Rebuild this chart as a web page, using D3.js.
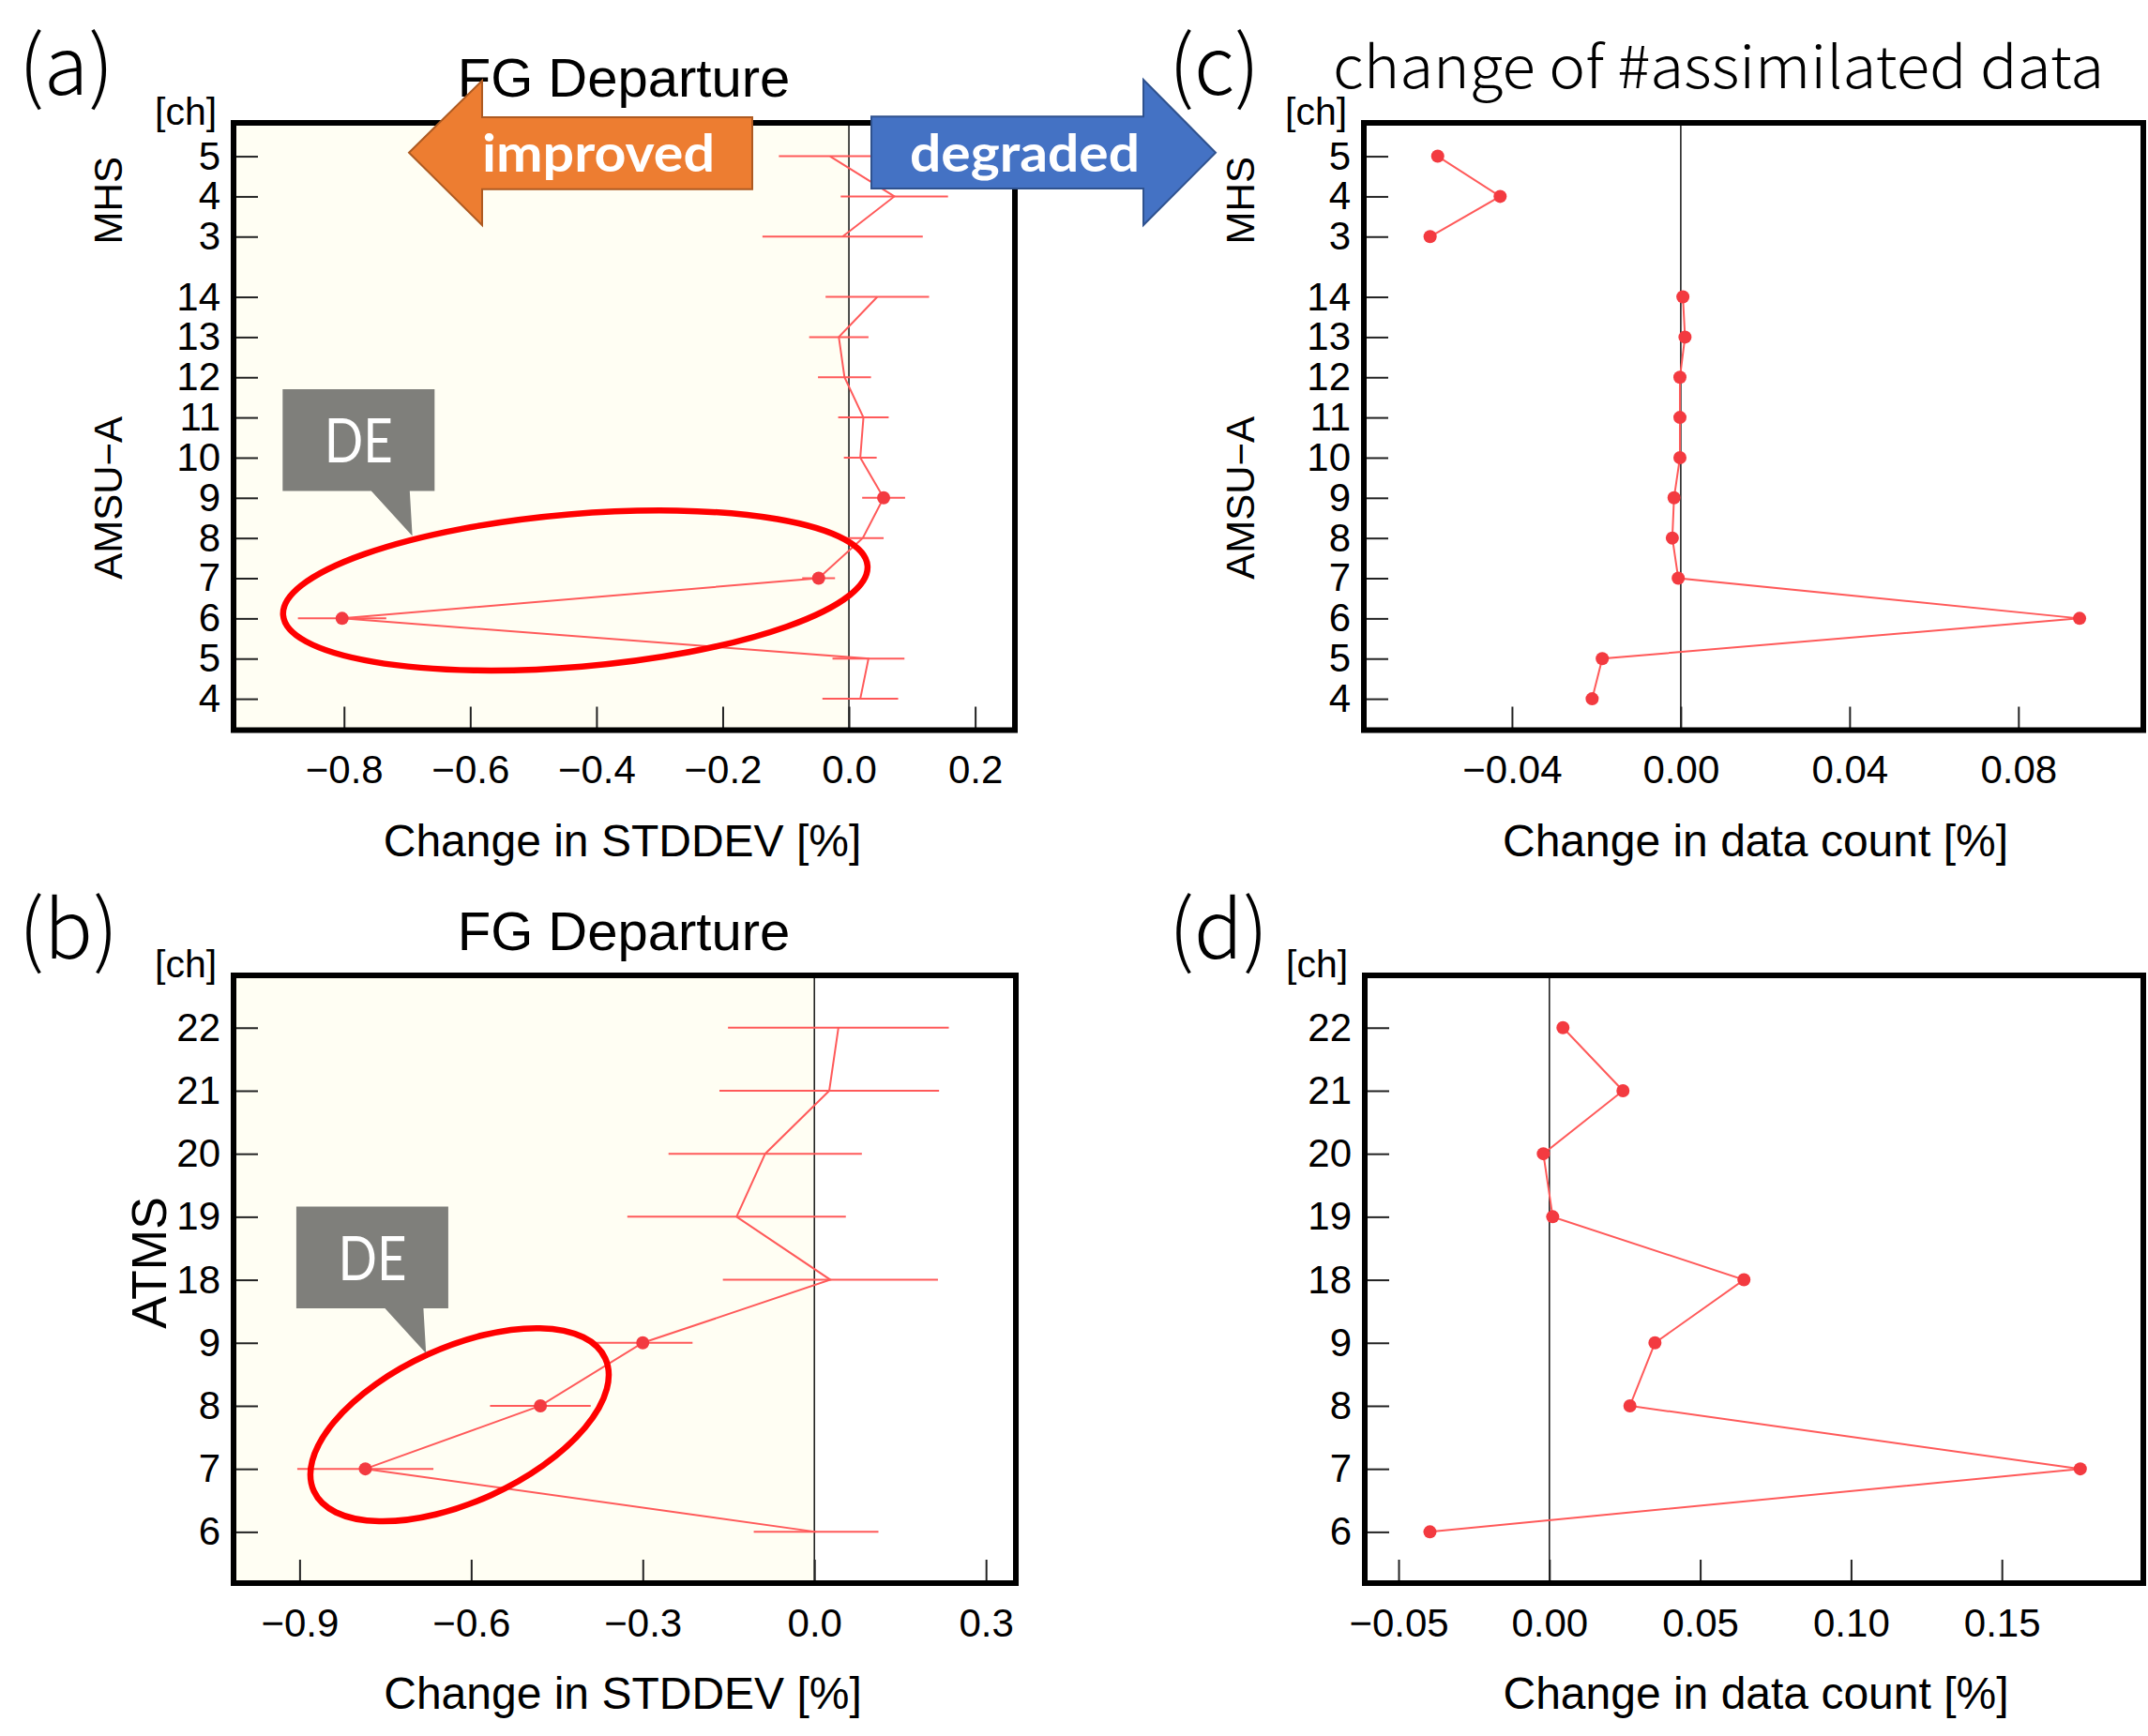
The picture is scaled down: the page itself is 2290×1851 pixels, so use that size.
<!DOCTYPE html>
<html>
<head>
<meta charset="utf-8">
<script src="https://cdnjs.cloudflare.com/ajax/libs/d3/7.8.5/d3.min.js"></script>
<style>
  body { margin: 0; background: #fff; }
  svg { display: block; }
</style>
</head>
<body>
<div id="chart"></div>
<script>
// channels
const amsuCh = [4, 5, 6, 7, 8, 9, 10, 11, 12, 13, 14];
const mhsCh = [3, 4, 5];
const atmsCh = [6, 7, 8, 9, 18, 19, 20, 21, 22];

// (a) FG departure, change in STDDEV [%]
const fgAmsu    = [0.018, 0.031, -0.803, -0.048, 0.022, 0.055, 0.018, 0.023, -0.007, -0.016, 0.045];
const fgAmsuErr = [0.060, 0.057, 0.070, 0.026, 0.033, 0.034, 0.026, 0.040, 0.042, 0.047, 0.082];
const fgAmsuSig = [false, false, true, true, false, true, false, false, false, false, false];
const fgMhs     = [-0.010, 0.072, -0.030];
const fgMhsErr  = [0.127, 0.085, 0.081];
const fgMhsSig  = [false, false, false];

// (b) FG departure ATMS
const fgAtms    = [0.003, -0.785, -0.479, -0.300, 0.028, -0.136, -0.086, 0.026, 0.042];
const fgAtmsErr = [0.109, 0.119, 0.088, 0.087, 0.188, 0.191, 0.169, 0.192, 0.193];
const fgAtmsSig = [false, true, true, true, false, false, false, false, false];

// (c) change in data count [%]
const cntAmsu = [-0.0210, -0.0186, 0.0945, -0.0006, -0.0020, -0.0016, -0.0002, -0.0002, -0.0002, 0.0010, 0.0005];
const cntMhs  = [-0.0594, -0.0428, -0.0576];

// (d) change in data count ATMS
const cntAtms = [-0.0396, 0.1760, 0.0267, 0.0350, 0.0645, 0.0011, -0.0020, 0.0244, 0.0045];

// tick values
const ticksA = [-0.8, -0.6, -0.4, -0.2, 0, 0.2];
const ticksB = [-0.9, -0.6, -0.3, 0, 0.3];
const ticksC = [-0.04, 0, 0.04, 0.08];
const ticksD = [-0.05, 0, 0.05, 0.10, 0.15];

const AR = "'Liberation Sans', Arial, sans-serif";
const JP = "'Noto Sans CJK JP', 'Noto Sans', sans-serif";
const RED_LINE = "#ff5a5a";
const RED_DOT = "#f33a40";

const svg = d3.select("#chart").append("svg")
    .attr("width", 2290)
    .attr("height", 1851);

// slot positions on the channel axis (MHS block sits after a gap)
const amsuPos = amsuCh.map((c, i) => i);
const mhsPos = mhsCh.map((c, i) => 11.5 + i);
const atmsPos = atmsCh.map((c, i) => i);

function makeGroup(pos, vals, errs, sig) {
    return pos.map((p, i) => ({ pos: p, v: vals[i], e: errs ? errs[i] : null, sig: sig ? sig[i] : true }));
}

function drawPanel(p) {
    const [L, T, R, B] = p.box;
    const g = svg.append("g");
    const x = d3.scaleLinear().domain(p.xDomain).range([L, R]);
    const y = d3.scaleLinear().domain(p.yDomain).range([B, T]);

    if (p.cream) {
        g.append("rect")
            .attr("x", L).attr("y", T)
            .attr("width", x(0) - L).attr("height", B - T)
            .attr("fill", "#fffef3");
    }

    g.append("line")
        .attr("x1", x(0)).attr("x2", x(0))
        .attr("y1", T).attr("y2", B)
        .attr("stroke", "#222").attr("stroke-width", 1.6);

    g.append("g")
        .attr("transform", `translate(0,${B})`)
        .call(d3.axisBottom(x).tickValues(p.xTicks).tickFormat(d3.format(p.fmt))
            .tickSizeInner(-25).tickSizeOuter(0).tickPadding(27))
        .call(a => a.select(".domain").remove())
        .call(a => a.selectAll("line").attr("stroke", "#222").attr("stroke-width", 2))
        .call(a => a.selectAll("text").attr("font-size", 42).attr("font-family", AR).attr("fill", "#000"));

    g.append("g")
        .attr("transform", `translate(${L},0)`)
        .call(d3.axisLeft(y).tickValues(p.yPos).tickFormat((d, i) => p.yLab[i])
            .tickSizeInner(-26).tickSizeOuter(0).tickPadding(14))
        .call(a => a.select(".domain").remove())
        .call(a => a.selectAll("line").attr("stroke", "#222").attr("stroke-width", 2))
        .call(a => a.selectAll("text").attr("font-size", 42).attr("font-family", AR).attr("fill", "#000"));

    const line = d3.line().x(d => x(d.v)).y(d => y(d.pos));
    p.groups.forEach(grp => {
        g.append("path")
            .datum(grp)
            .attr("d", line)
            .attr("fill", "none")
            .attr("stroke", RED_LINE)
            .attr("stroke-width", 2);

        g.selectAll(null)
            .data(grp.filter(d => d.e !== null))
            .enter()
            .append("line")
            .attr("x1", d => x(d.v - d.e)).attr("x2", d => x(d.v + d.e))
            .attr("y1", d => y(d.pos)).attr("y2", d => y(d.pos))
            .attr("stroke", RED_LINE)
            .attr("stroke-width", 2);

        g.selectAll(null)
            .data(grp.filter(d => d.sig))
            .enter()
            .append("circle")
            .attr("cx", d => x(d.v)).attr("cy", d => y(d.pos))
            .attr("r", 7)
            .attr("fill", RED_DOT);
    });

    g.append("rect")
        .attr("x", L).attr("y", T)
        .attr("width", R - L).attr("height", B - T)
        .attr("fill", "none")
        .attr("stroke", "#000")
        .attr("stroke-width", 6);

    // [ch]
    g.append("text")
        .attr("x", L - 84).attr("y", T + 2)
        .attr("font-family", AR).attr("font-size", 41)
        .text("[ch]");

    // x-axis title
    g.append("text")
        .attr("x", (L + R) / 2 + (p.titleShift || 0)).attr("y", B + 134)
        .attr("text-anchor", "middle")
        .attr("font-family", AR).attr("font-size", 48)
        .text(p.xTitle);

    // instrument names
    p.inst.forEach(s => {
        g.append("text")
            .attr("transform", `translate(${L - s.dx},${y(s.pos)}) rotate(-90)`)
            .attr("text-anchor", "middle")
            .attr("dy", "0.36em")
            .attr("font-family", AR).attr("font-size", s.size)
            .text(s.name);
    });

    return { x, y, g };
}

const pA = drawPanel({
    box: [249, 131, 1082, 778.5],
    xDomain: [-0.975, 0.263], yDomain: [-0.78, 14.33],
    xTicks: ticksA, fmt: ".1f",
    yPos: amsuPos.concat(mhsPos), yLab: amsuCh.concat(mhsCh),
    cream: true,
    groups: [makeGroup(amsuPos, fgAmsu, fgAmsuErr, fgAmsuSig), makeGroup(mhsPos, fgMhs, fgMhsErr, fgMhsSig)],
    xTitle: "Change in STDDEV [%]", titleShift: -2,
    inst: [{ name: "MHS", pos: 12.4, dx: 134, size: 42 }, { name: "AMSU\u2212A", pos: 5.0, dx: 134, size: 42 }]
});

const pC = drawPanel({
    box: [1454, 131, 2285, 778.5],
    xDomain: [-0.0751, 0.1096], yDomain: [-0.78, 14.33],
    xTicks: ticksC, fmt: ".2f",
    yPos: amsuPos.concat(mhsPos), yLab: amsuCh.concat(mhsCh),
    cream: false,
    groups: [makeGroup(amsuPos, cntAmsu, null, null), makeGroup(mhsPos, cntMhs, null, null)],
    xTitle: "Change in data count [%]", titleShift: 2,
    inst: [{ name: "MHS", pos: 12.4, dx: 132, size: 42 }, { name: "AMSU\u2212A", pos: 5.0, dx: 132, size: 42 }]
});

const pB = drawPanel({
    box: [249, 1040, 1083, 1688],
    xDomain: [-1.0154, 0.3522], yDomain: [-0.813, 8.83],
    xTicks: ticksB, fmt: ".1f",
    yPos: atmsPos, yLab: atmsCh,
    cream: true,
    groups: [makeGroup(atmsPos, fgAtms, fgAtmsErr, fgAtmsSig)],
    xTitle: "Change in STDDEV [%]", titleShift: -2,
    inst: [{ name: "ATMS", pos: 4.27, dx: 91, size: 52 }]
});

const pD = drawPanel({
    box: [1455, 1040, 2285, 1688],
    xDomain: [-0.0612, 0.1969], yDomain: [-0.813, 8.83],
    xTicks: ticksD, fmt: ".2f",
    yPos: atmsPos, yLab: atmsCh,
    cream: false,
    groups: [makeGroup(atmsPos, cntAtms, null, null)],
    xTitle: "Change in data count [%]", titleShift: 2,
    inst: []
});

// titles
svg.append("text").attr("x", 665).attr("y", 103).attr("text-anchor", "middle")
    .attr("font-family", AR).attr("font-size", 58).text("FG Departure");
svg.append("text").attr("x", 665).attr("y", 1013).attr("text-anchor", "middle")
    .attr("font-family", AR).attr("font-size", 58).text("FG Departure");
svg.append("text").attr("x", 1421).attr("y", 94)
    .attr("font-family", JP).attr("font-size", 62).attr("font-weight", 300)
    .attr("textLength", 822).attr("lengthAdjust", "spacingAndGlyphs")
    .text("change of #assimilated data");

// panel letters
[["(a)", 20, 101], ["(c)", 1246, 101], ["(b)", 20, 1022], ["(d)", 1246, 1022]].forEach(([t, px, py]) => {
    svg.append("text").attr("x", px).attr("y", py)
        .attr("font-family", JP).attr("font-size", 86).attr("font-weight", 300)
        .text(t);
});

// red ellipses around the DE channels
function ring(panel, cx, cy, rx, ry, ang) {
    svg.append("ellipse")
        .attr("transform", `translate(${panel.x(cx)},${panel.y(cy)}) rotate(${ang})`)
        .attr("rx", rx).attr("ry", ry)
        .attr("fill", "none")
        .attr("stroke", "#ff0000")
        .attr("stroke-width", 6.5);
}
ring(pA, -0.4335, 2.695, 312.6, 81.4, -4.85);
ring(pB, -0.6203, 1.70, 170.7, 82.2, -24.5);

// DE callouts, anchored at the pointer tip
function callout(panel, tx, ty) {
    const px = panel.x(tx), py = panel.y(ty);
    const left = px - 138.3, bottom = py - 48, top = bottom - 108.5, right = left + 162;
    svg.append("path")
        .attr("d", `M${left},${top}H${right}V${bottom}H${left + 135.5}L${px},${py}L${left + 94.5},${bottom}H${left}Z`)
        .attr("fill", "#7f7f7b");
    svg.append("text")
        .attr("x", (left + right) / 2).attr("y", (top + bottom) / 2 + 24)
        .attr("text-anchor", "middle")
        .attr("font-family", "Lato, 'Noto Sans', sans-serif").attr("font-size", 66)
        .attr("textLength", 73).attr("lengthAdjust", "spacingAndGlyphs")
        .attr("fill", "#fff")
        .text("DE");
}
callout(pA, -0.6917, 4.05);
callout(pB, -0.6789, 2.834);

// improved / degraded arrows
svg.append("path")
    .attr("d", "M436,162.7L514,86V125H802V201.7H514V240Z")
    .attr("fill", "#ed7d31").attr("stroke", "#ae5a21").attr("stroke-width", 2);
svg.append("text").attr("x", 514).attr("y", 183)
    .attr("font-family", "Lato, 'Open Sans', sans-serif").attr("font-weight", 700).attr("font-size", 55)
    .attr("textLength", 248).attr("lengthAdjust", "spacingAndGlyphs")
    .attr("fill", "#fff").text("improved");

svg.append("path")
    .attr("d", "M929,124.3H1219V85L1296,162.7L1219,240V201H929Z")
    .attr("fill", "#4472c4").attr("stroke", "#2f528f").attr("stroke-width", 2);
svg.append("text").attr("x", 970).attr("y", 183)
    .attr("font-family", "Lato, 'Open Sans', sans-serif").attr("font-weight", 700).attr("font-size", 55)
    .attr("textLength", 245).attr("lengthAdjust", "spacingAndGlyphs")
    .attr("fill", "#fff").text("degraded");
</script>
</body>
</html>
